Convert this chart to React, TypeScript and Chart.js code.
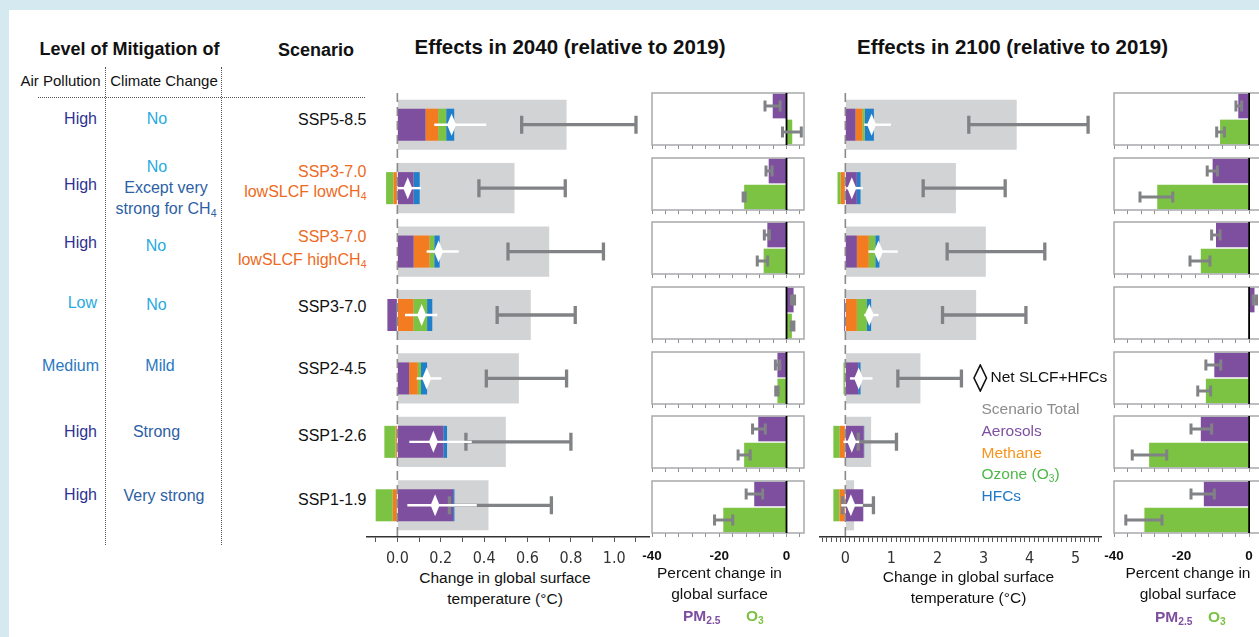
import React, { useEffect, useRef } from 'react';
import { Chart, registerables } from 'chart.js';
Chart.register(...registerables);

const FONT = "'Liberation Sans', Arial, Helvetica, sans-serif";
const NARROW = "'Liberation Sans Narrow', 'DejaVu Sans Condensed', 'Liberation Sans', Arial, sans-serif";

// colours
const C_AER = '#7e4f9f';
const C_CH4 = '#f47c20';
const C_O3 = '#7cc243';
const C_HFC = '#1f7fcb';
const C_TOTAL = '#d1d3d4';
const C_ERR = '#808285';

// ---------- categories ----------
const SCENARIOS = ['SSP5-8.5', 'SSP3-7.0 lowSLCF lowCH4', 'SSP3-7.0 lowSLCF highCH4', 'SSP3-7.0', 'SSP2-4.5', 'SSP1-2.6', 'SSP1-1.9'];
const AIR_POLLUTION = ['High', 'High', 'High', 'Low', 'Medium', 'High', 'High'];
const CLIMATE_CHANGE = ['No', 'No', 'No', 'No', 'Mild', 'Strong', 'Very strong'];
const PCT_CATEGORIES = ['PM2.5', 'O3'];

// ---------- 2040 temperature (°C) ----------
const T2040_TOTAL = [0.78, 0.54, 0.70, 0.615, 0.56, 0.50, 0.42];
const T2040_TOTAL_LO = [0.573, 0.376, 0.51, 0.46, 0.41, 0.316, 0.24];
const T2040_TOTAL_HI = [1.10, 0.774, 0.95, 0.82, 0.78, 0.80, 0.71];
const T2040_AEROSOLS = [0.13, 0.075, 0.075, -0.046, 0.054, 0.212, 0.257];
const T2040_METHANE = [0.058, -0.018, 0.073, 0.074, 0.040, -0.008, -0.021];
const T2040_OZONE = [0.037, -0.034, 0.022, 0.063, 0.015, -0.052, -0.079];
const T2040_HFCS = [0.037, 0.028, 0.025, 0.024, 0.028, 0.017, 0.006];
const T2040_NET = [0.25, 0.048, 0.19, 0.112, 0.135, 0.166, 0.174];
const T2040_NET_LO = [0.17, 0.003, 0.135, 0.035, 0.089, 0.055, 0.046];
const T2040_NET_HI = [0.41, 0.109, 0.283, 0.184, 0.203, 0.343, 0.366];

// ---------- 2100 temperature (°C) ----------
const T2100_TOTAL = [3.72, 2.40, 3.05, 2.84, 1.63, 0.56, 0.19];
const T2100_TOTAL_LO = [2.68, 1.69, 2.21, 2.11, 1.14, 0.28, -0.06];
const T2100_TOTAL_HI = [5.27, 3.47, 4.33, 3.92, 2.52, 1.11, 0.61];
const T2100_AEROSOLS = [0.22, 0.25, 0.25, -0.03, 0.28, 0.40, 0.39];
const T2100_METHANE = [0.15, -0.10, 0.26, 0.25, 0.0, -0.12, -0.13];
const T2100_OZONE = [0.05, -0.07, 0.14, 0.22, -0.04, -0.14, -0.13];
const T2100_HFCS = [0.20, 0.08, 0.09, 0.09, 0.05, 0.01, 0.0];
const T2100_NET = [0.57, 0.14, 0.72, 0.52, 0.29, 0.14, 0.12];
const T2100_NET_LO = [0.41, 0.02, 0.50, 0.41, 0.10, -0.04, -0.09];
const T2100_NET_HI = [0.99, 0.38, 1.14, 0.72, 0.59, 0.30, 0.38];

// ---------- percent change in global surface PM2.5 / O3 ----------
const PM_2040 = [-4.1, -5.3, -5.7, 2.1, -2.7, -8.4, -9.6];
const PM_2040_LO = [-6.4, -6.1, -6.6, 1.5, -3.3, -10.1, -12.0];
const PM_2040_HI = [-1.9, -4.3, -5.1, 2.4, -2.0, -6.3, -7.1];
const O3_2040 = [1.7, -12.6, -6.8, 1.6, -2.7, -12.6, -18.8];
const O3_2040_LO = [-1.2, -12.9, -8.7, 1.4, -3.2, -14.4, -21.4];
const O3_2040_HI = [4.4, -12.3, -5.6, 2.2, -2.5, -10.8, -16.0];

const PM_2100 = [-3.2, -10.8, -9.8, 1.6, -10.3, -14.3, -13.4];
const PM_2100_LO = [-3.9, -12.4, -11.1, 1.2, -12.8, -17.2, -17.2];
const PM_2100_HI = [-2.2, -9.4, -8.6, 2.2, -8.4, -11.1, -10.3];
const O3_2100 = [-8.6, -27.2, -14.3, -0.2, -12.8, -29.6, -31.0];
const O3_2100_LO = [-9.6, -32.3, -17.5, -0.2, -15.2, -34.6, -36.5];
const O3_2100_HI = [-7.3, -22.6, -11.6, -0.2, -11.4, -24.4, -25.8];

// ---------- tick labels ----------
const T2040_TICK_VALUES = [0, 0.2, 0.4, 0.6, 0.8, 1.0];
const T2040_TICK_LABELS = ['0.0', '0.2', '0.4', '0.6', '0.8', '1.0'];
const T2100_TICK_VALUES = [0, 1, 2, 3, 4, 5];
const T2100_TICK_LABELS = ['0', '1', '2', '3', '4', '5'];
const PCT_TICK_VALUES = [-40, -20, 0];
const PCT_TICK_LABELS = ['-40', '-20', '0'];

function minorTicks(fromTenths: number, toTenths: number, stepTenths: number) {
  const out: number[] = [];
  for (let k = fromTenths; k <= toTenths; k += stepTenths) out.push(k / 10);
  return out;
}

function labelFor(v: number, values: number[], labels: string[]) {
  const i = values.findIndex((t) => Math.abs(t - v) < 1e-6);
  return i >= 0 ? labels[i] : '';
}

type TempProps = {
  left: number; top: number; areaW: number; areaH: number;
  min: number; max: number; minor: number[]; tickValues: number[]; tickLabels: string[];
  total: number[]; lo: number[]; hi: number[];
  aer: number[]; ch4: number[]; o3: number[]; hfc: number[];
  net: number[]; netLo: number[]; netHi: number[];
};

function TempChart(p: TempProps) {
  const ref = useRef<HTMLCanvasElement>(null);
  const PAD = 16;
  const AXIS_H = 32;
  const w = p.areaW + 2 * PAD;
  const h = p.areaH + AXIS_H;
  useEffect(() => {
    const overlay = {
      id: 'tempOverlay',
      afterDatasetsDraw(chart: any) {
        const ctx = chart.ctx;
        const xs = chart.scales.x;
        const ys = chart.scales.y;
        const { top, bottom } = chart.chartArea;
        const x0 = xs.getPixelForValue(0);
        ctx.save();
        ctx.setLineDash([9, 5]);
        ctx.strokeStyle = '#8a8a8a';
        ctx.lineWidth = 1.6;
        ctx.beginPath();
        ctx.moveTo(x0, top);
        ctx.lineTo(x0, bottom);
        ctx.stroke();
        ctx.setLineDash([]);
        ctx.strokeStyle = C_ERR;
        ctx.lineWidth = 3.3;
        p.lo.forEach((l, i) => {
          const y = ys.getPixelForValue(i);
          const a = xs.getPixelForValue(l);
          const b = xs.getPixelForValue(p.hi[i]);
          ctx.beginPath();
          ctx.moveTo(a, y); ctx.lineTo(b, y);
          ctx.moveTo(a, y - 9); ctx.lineTo(a, y + 9);
          ctx.moveTo(b, y - 9); ctx.lineTo(b, y + 9);
          ctx.stroke();
        });
        ctx.strokeStyle = '#ffffff';
        ctx.fillStyle = '#ffffff';
        ctx.lineWidth = 2.4;
        p.net.forEach((n, i) => {
          const y = ys.getPixelForValue(i);
          ctx.beginPath();
          ctx.moveTo(xs.getPixelForValue(p.netLo[i]), y);
          ctx.lineTo(xs.getPixelForValue(p.netHi[i]), y);
          ctx.stroke();
          const x = xs.getPixelForValue(n);
          ctx.beginPath();
          ctx.moveTo(x, y - 11); ctx.lineTo(x + 4.5, y); ctx.lineTo(x, y + 11); ctx.lineTo(x - 4.5, y);
          ctx.closePath();
          ctx.fill();
        });
        ctx.restore();
      },
    };
    const comp = { stack: 'comp', grouped: false, categoryPercentage: 1, barPercentage: 0.505, order: 1, borderWidth: 0 };
    const chart = new Chart(ref.current as HTMLCanvasElement, {
      type: 'bar',
      data: {
        labels: SCENARIOS,
        datasets: [
          { label: 'Aerosols', data: p.aer, backgroundColor: C_AER, ...comp },
          { label: 'Methane', data: p.ch4, backgroundColor: C_CH4, ...comp },
          { label: 'Ozone (O3)', data: p.o3, backgroundColor: C_O3, ...comp },
          { label: 'HFCs', data: p.hfc, backgroundColor: C_HFC, ...comp },
          { label: 'Scenario Total', data: p.total, backgroundColor: C_TOTAL, stack: 'total', grouped: false, categoryPercentage: 1, barPercentage: 0.79, order: 2, borderWidth: 0 },
        ] as any,
      },
      options: {
        indexAxis: 'y',
        animation: false,
        responsive: false,
        maintainAspectRatio: false,
        layout: { padding: { left: PAD, right: PAD, top: 0, bottom: 0 } },
        plugins: { legend: { display: false }, tooltip: { enabled: false } },
        scales: {
          y: { display: false },
          x: {
            min: p.min,
            max: p.max,
            stacked: true,
            afterBuildTicks: (s: any) => { s.ticks = p.minor.map((v) => ({ value: v })); },
            afterFit: (s: any) => { s.height = AXIS_H; },
            ticks: {
              autoSkip: false,
              maxRotation: 0,
              padding: 7,
              color: '#333',
              font: { family: NARROW, size: 16 },
              callback: (v: any) => labelFor(Number(v), p.tickValues, p.tickLabels),
            },
            grid: { drawOnChartArea: false, drawTicks: true, tickLength: 5, color: '#555', lineWidth: 1 },
            border: { color: '#333', width: 1.5 },
          } as any,
        },
      },
      plugins: [overlay],
    });
    return () => chart.destroy();
  }, []);
  return (
    <canvas
      ref={ref}
      width={w}
      height={h}
      style={{ position: 'absolute', left: p.left - PAD, top: p.top, width: w, height: h }}
    />
  );
}

type PctProps = {
  left: number; top: number; boxW: number; max: number;
  pm: number; o3: number; pmLo: number; pmHi: number; o3Lo: number; o3Hi: number;
  showLabels: boolean;
};

const PCT_MINOR = minorTicks(-400, 40, 40);

function PctPanel(p: PctProps) {
  const ref = useRef<HTMLCanvasElement>(null);
  const PADL = 28, PADR = 16, PADT = 2, BOX_H = 52;
  const axisH = p.showLabels ? 34 : 6;
  const w = PADL + p.boxW + PADR;
  const h = PADT + BOX_H + axisH;
  useEffect(() => {
    const overlay = {
      id: 'pctOverlay',
      afterDatasetsDraw(chart: any) {
        const ctx = chart.ctx;
        const xs = chart.scales.x;
        const ys = chart.scales.y;
        const { left, right, top, bottom } = chart.chartArea;
        ctx.save();
        ctx.strokeStyle = '#a7a9ac';
        ctx.lineWidth = 1.5;
        ctx.strokeRect(left, top, right - left, bottom - top);
        const x0 = xs.getPixelForValue(0);
        ctx.strokeStyle = '#000';
        ctx.lineWidth = 1.8;
        ctx.beginPath();
        ctx.moveTo(x0, top);
        ctx.lineTo(x0, bottom);
        ctx.stroke();
        ctx.strokeStyle = C_ERR;
        ctx.lineWidth = 3;
        const errs = [[p.pmLo, p.pmHi], [p.o3Lo, p.o3Hi]];
        errs.forEach(([lo, hi], i) => {
          if (lo === hi) return;
          const y = ys.getPixelForValue(i);
          const a = xs.getPixelForValue(lo);
          const b = xs.getPixelForValue(hi);
          ctx.beginPath();
          ctx.moveTo(a, y); ctx.lineTo(b, y);
          ctx.moveTo(a, y - 5.5); ctx.lineTo(a, y + 5.5);
          ctx.moveTo(b, y - 5.5); ctx.lineTo(b, y + 5.5);
          ctx.stroke();
        });
        ctx.restore();
      },
    };
    const chart = new Chart(ref.current as HTMLCanvasElement, {
      type: 'bar',
      data: {
        labels: PCT_CATEGORIES,
        datasets: [
          {
            data: [p.pm, p.o3],
            backgroundColor: [C_AER, C_O3],
            categoryPercentage: 1,
            barPercentage: 0.95,
            borderWidth: 0,
          },
        ],
      },
      options: {
        indexAxis: 'y',
        animation: false,
        responsive: false,
        maintainAspectRatio: false,
        layout: { padding: { left: PADL, right: PADR, top: PADT, bottom: 0 } },
        plugins: { legend: { display: false }, tooltip: { enabled: false } },
        scales: {
          y: { display: false },
          x: {
            min: -40,
            max: p.max,
            afterBuildTicks: (s: any) => { s.ticks = PCT_MINOR.map((v) => ({ value: v })); },
            afterFit: (s: any) => { s.height = axisH; },
            ticks: {
              autoSkip: false,
              maxRotation: 0,
              padding: 11,
              color: '#111',
              font: { family: FONT, size: 13.5, weight: 'bold' },
              callback: (v: any) => (p.showLabels ? labelFor(Number(v), PCT_TICK_VALUES, PCT_TICK_LABELS) : ''),
            },
            grid: { drawOnChartArea: false, drawTicks: true, tickLength: 4, color: '#8f8f8f', lineWidth: 1 },
            border: { display: false },
          } as any,
        },
      },
      plugins: [overlay],
    });
    return () => chart.destroy();
  }, []);
  return (
    <canvas
      ref={ref}
      width={w}
      height={h}
      style={{ position: 'absolute', left: p.left - PADL, top: p.top - PADT, width: w, height: h }}
    />
  );
}

type TxtProps = {
  x: number; y: number; children: any; align?: 'left' | 'center' | 'right';
  color?: string; size?: number; weight?: number;
};
function Txt({ x, y, children, align = 'center', color = '#111', size = 15.5, weight = 400 }: TxtProps) {
  const tx = align === 'center' ? '-50%' : align === 'right' ? '-100%' : '0';
  return (
    <div
      style={{
        position: 'absolute', left: x, top: y, transform: `translate(${tx}, -50%)`,
        color, fontSize: size, fontWeight: weight, fontFamily: FONT, whiteSpace: 'nowrap', lineHeight: 1,
      }}
    >
      {children}
    </div>
  );
}

const Sub = ({ children }: { children: any }) => (
  <sub style={{ fontSize: '0.66em', verticalAlign: '-0.3em', lineHeight: 0 }}>{children}</sub>
);

const NAVY = '#2e3192';
const LIGHT = '#27aae1';
const MID = '#2b78c2';
const DARK = '#2d5fa5';
const ORANGE_TXT = '#ee6a22';
const LEVEL_COLOR: Record<string, string> = {
  High: NAVY, Low: LIGHT, Medium: MID, No: LIGHT, Mild: MID, Strong: DARK, 'Very strong': DARK,
};

const PCT_TOPS = [93, 158, 222, 287, 352, 416, 481];

export default function App() {
  const apY = [119.3, 185, 243.3, 303.3, 366, 431.7, 495];
  const apX = [97, 97, 97, 97, 99, 97, 97];
  const ccY = [119.3, 166.7, 246, 305, 366, 431.7, 496];
  const ccX = [157, 157, 156, 156.5, 160, 156.5, 164];
  return (
    <div style={{ position: 'fixed', left: 0, top: 0, width: 1259, height: 637, overflow: 'hidden', background: '#d5e9f1', fontFamily: FONT }}>
      <div style={{ position: 'absolute', left: 9, top: 10, right: 0, bottom: 0, background: '#ffffff' }} />

      {/* header */}
      <Txt x={129.5} y={48.5} size={18} weight={700}>Level of Mitigation of</Txt>
      <Txt x={316} y={49.5} size={18} weight={700}>Scenario</Txt>
      <Txt x={60.5} y={80} size={15}>Air Pollution</Txt>
      <Txt x={164} y={80} size={15}>Climate Change</Txt>
      <Txt x={570} y={47} size={20.5} weight={700}>Effects in 2040 (relative to 2019)</Txt>
      <Txt x={1012.5} y={47} size={20.5} weight={700}>Effects in 2100 (relative to 2019)</Txt>

      {/* dotted separators */}
      <div style={{ position: 'absolute', left: 105, top: 67, height: 478, borderLeft: '1.5px dotted #555' }} />
      <div style={{ position: 'absolute', left: 221, top: 67, height: 478, borderLeft: '1.5px dotted #555' }} />
      <div style={{ position: 'absolute', left: 38, top: 97, width: 327, borderTop: '1.5px dotted #555' }} />

      {/* level of mitigation */}
      {AIR_POLLUTION.map((t, i) => (
        <Txt key={'ap' + i} x={apX[i]} y={apY[i]} align="right" size={16} color={LEVEL_COLOR[t]}>{t}</Txt>
      ))}
      {CLIMATE_CHANGE.map((t, i) => (
        <Txt key={'cc' + i} x={ccX[i]} y={ccY[i]} size={16} color={LEVEL_COLOR[t]}>{t}</Txt>
      ))}
      <Txt x={166} y={187.5} size={16} color={DARK}>Except very</Txt>
      <Txt x={166} y={209} size={16} color={DARK}>strong for CH<Sub>4</Sub></Txt>

      {/* scenarios */}
      <Txt x={366.5} y={120} align="right" size={16}>{SCENARIOS[0]}</Txt>
      <Txt x={366.5} y={171.7} align="right" size={16} color={ORANGE_TXT}>SSP3-7.0</Txt>
      <Txt x={366.5} y={192} align="right" size={16} color={ORANGE_TXT}>lowSLCF lowCH<Sub>4</Sub></Txt>
      <Txt x={366.5} y={236.7} align="right" size={16} color={ORANGE_TXT}>SSP3-7.0</Txt>
      <Txt x={366.5} y={259.5} align="right" size={16} color={ORANGE_TXT}>lowSLCF highCH<Sub>4</Sub></Txt>
      <Txt x={366.5} y={307.3} align="right" size={16}>{SCENARIOS[3]}</Txt>
      <Txt x={366.5} y={369.3} align="right" size={16}>{SCENARIOS[4]}</Txt>
      <Txt x={366.5} y={436} align="right" size={16}>{SCENARIOS[5]}</Txt>
      <Txt x={366.5} y={500} align="right" size={16}>{SCENARIOS[6]}</Txt>

      {/* temperature charts */}
      <TempChart
        left={367} top={93} areaW={282} areaH={444}
        min={-0.14} max={1.16} minor={minorTicks(-1, 11, 1)}
        tickValues={T2040_TICK_VALUES} tickLabels={T2040_TICK_LABELS}
        total={T2040_TOTAL} lo={T2040_TOTAL_LO} hi={T2040_TOTAL_HI}
        aer={T2040_AEROSOLS} ch4={T2040_METHANE} o3={T2040_OZONE} hfc={T2040_HFCS}
        net={T2040_NET} netLo={T2040_NET_LO} netHi={T2040_NET_HI}
      />
      <TempChart
        left={820} top={93} areaW={281} areaH={444}
        min={-0.55} max={5.55} minor={minorTicks(-5, 55, 1)}
        tickValues={T2100_TICK_VALUES} tickLabels={T2100_TICK_LABELS}
        total={T2100_TOTAL} lo={T2100_TOTAL_LO} hi={T2100_TOTAL_HI}
        aer={T2100_AEROSOLS} ch4={T2100_METHANE} o3={T2100_OZONE} hfc={T2100_HFCS}
        net={T2100_NET} netLo={T2100_NET_LO} netHi={T2100_NET_HI}
      />

      {/* percent panels */}
      {PCT_TOPS.map((t, i) => (
        <PctPanel
          key={'p40' + i} left={652} top={t} boxW={152} max={5.2}
          pm={PM_2040[i]} o3={O3_2040[i]} pmLo={PM_2040_LO[i]} pmHi={PM_2040_HI[i]}
          o3Lo={O3_2040_LO[i]} o3Hi={O3_2040_HI[i]} showLabels={i === PCT_TOPS.length - 1}
        />
      ))}
      {PCT_TOPS.map((t, i) => (
        <PctPanel
          key={'p21' + i} left={1114} top={t} boxW={153} max={5.3}
          pm={PM_2100[i]} o3={O3_2100[i]} pmLo={PM_2100_LO[i]} pmHi={PM_2100_HI[i]}
          o3Lo={O3_2100_LO[i]} o3Hi={O3_2100_HI[i]} showLabels={i === PCT_TOPS.length - 1}
        />
      ))}

      {/* legend */}
      <svg style={{ position: 'absolute', left: 973, top: 364 }} width={15} height={28}>
        <polygon points="7.3,1 13.5,14 7.3,27 1,14" fill="#fff" stroke="#111" strokeWidth={1.6} />
      </svg>
      <Txt x={990.5} y={377} align="left" size={15.5}>Net SLCF+HFCs</Txt>
      <Txt x={981.5} y={409.3} align="left" size={15.5} color="#8c8c8c">Scenario Total</Txt>
      <Txt x={981.5} y={430.7} align="left" size={15.5} color={C_AER}>Aerosols</Txt>
      <Txt x={981.5} y={452.7} align="left" size={15.5} color="#f7941d">Methane</Txt>
      <Txt x={981.5} y={474} align="left" size={15.5} color="#4db848">Ozone (O<Sub>3</Sub>)</Txt>
      <Txt x={981.5} y={496} align="left" size={15.5} color="#1f78c8">HFCs</Txt>

      {/* axis titles */}
      <Txt x={505} y={578} size={15.5}>Change in global surface</Txt>
      <Txt x={505} y={599} size={15.5}>temperature (°C)</Txt>
      <Txt x={968.5} y={577} size={15.5}>Change in global surface</Txt>
      <Txt x={968.5} y={598} size={15.5}>temperature (°C)</Txt>

      <Txt x={719.5} y={573} size={15.5}>Percent change in</Txt>
      <Txt x={719.5} y={593.5} size={15.5}>global surface</Txt>
      <Txt x={683} y={616} align="left" size={15.5} weight={700} color={C_AER}>PM<Sub>2.5</Sub></Txt>
      <Txt x={746} y={616} align="left" size={15.5} weight={700} color={C_O3}>O<Sub>3</Sub></Txt>

      <Txt x={1188} y={573} size={15.5}>Percent change in</Txt>
      <Txt x={1188} y={593.5} size={15.5}>global surface</Txt>
      <Txt x={1155} y={616.5} align="left" size={15.5} weight={700} color={C_AER}>PM<Sub>2.5</Sub></Txt>
      <Txt x={1208} y={616.5} align="left" size={15.5} weight={700} color={C_O3}>O<Sub>3</Sub></Txt>
    </div>
  );
}
